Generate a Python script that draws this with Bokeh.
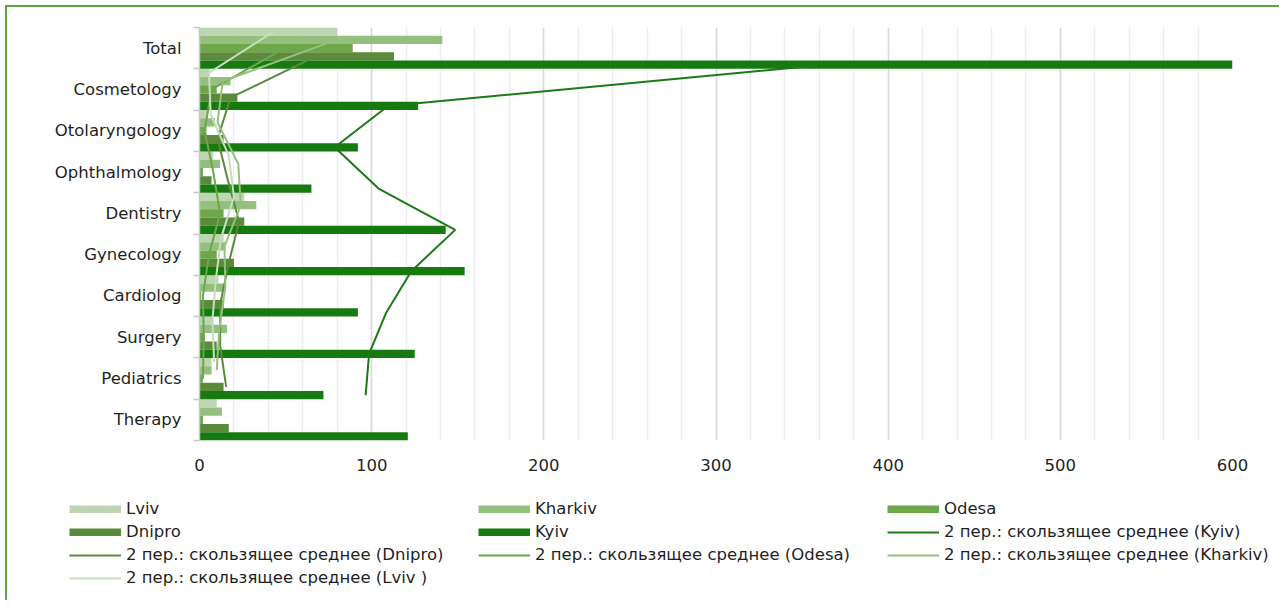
from bokeh.plotting import figure
from bokeh.models import Range1d, FixedTicker, SingleIntervalTicker, Legend, LegendItem
from bokeh.layouts import column
from bokeh.embed import file_html
from bokeh.resources import INLINE

categories = ["Total", "Cosmetology", "Otolaryngology", "Ophthalmology", "Dentistry",
              "Gynecology", "Cardiolog", "Surgery", "Pediatrics", "Therapy"]
cities = ["Lviv", "Kharkiv", "Odesa", "Dnipro", "Kyiv"]
lviv = [80, 6, 5, 8, 26, 14, 11, 8, 7, 10]
kharkiv = [141, 18, 9, 12, 33, 15, 14, 16, 7, 13]
odesa = [89, 10, 4, 2, 14, 10, 1, 3, 2, 2]
dnipro = [113, 22, 14, 7, 26, 20, 14, 10, 14, 17]
kyiv = [600, 127, 92, 65, 143, 154, 92, 125, 72, 121]
series = [lviv, kharkiv, odesa, dnipro, kyiv]
x_max = 600
ma_labels = {"Lviv": "2 пер.: скользящее среднее (Lviv )",
             "Kharkiv": "2 пер.: скользящее среднее (Kharkiv)",
             "Odesa": "2 пер.: скользящее среднее (Odesa)",
             "Dnipro": "2 пер.: скользящее среднее (Dnipro)",
             "Kyiv": "2 пер.: скользящее среднее (Kyiv)"}

bar_colors = ["#bdd6b1", "#94bf7e", "#6ea64a", "#5b8a3b", "#167a10"]
line_colors = ["#c6dfbd", "#93c17d", "#6aa84a", "#5a8b3a", "#1b7a16"]
offsets = [-0.4, -0.2, 0.0, 0.2, 0.4]
FONT = "DejaVu Sans"
FS = "16.5px"
TXT = "#1f1f1f"

p = figure(width=1279, height=480, x_range=Range1d(0, x_max),
           y_range=Range1d(len(categories) - 0.5, -0.5),
           output_backend="svg", toolbar_location=None,
           min_border_left=199, min_border_right=47, min_border_top=27,
           min_border_bottom=40)
p.frame_align = False
p.outline_line_color = None
p.background_fill_color = "white"
p.border_fill_alpha = 0

# x axis
p.xaxis.ticker = SingleIntervalTicker(interval=100, num_minor_ticks=5)
p.xaxis.axis_line_color = None
p.xaxis.major_tick_line_color = None
p.xaxis.minor_tick_line_color = None
p.xaxis.major_label_standoff = 12
p.xaxis.major_label_text_font = FONT
p.xaxis.major_label_text_font_size = FS
p.xaxis.major_label_text_color = TXT
p.xgrid.grid_line_color = "#d9d9d9"
p.xgrid.grid_line_width = 1.5
p.xgrid.minor_grid_line_color = "#ededed"
p.xgrid.minor_grid_line_width = 1.5
p.ygrid.grid_line_color = None

# y axis
p.yaxis.ticker = FixedTicker(ticks=list(range(len(categories))),
                             minor_ticks=[i - 0.5 for i in range(len(categories) + 1)])
p.yaxis.major_label_overrides = {i: c for i, c in enumerate(categories)}
p.yaxis.axis_line_color = "#c8c8c8"
p.yaxis.axis_line_width = 1.5
p.yaxis.major_tick_line_color = None
p.yaxis.major_tick_out = 0
p.yaxis.minor_tick_line_color = "#c8c8c8"
p.yaxis.minor_tick_line_width = 1.5
p.yaxis.minor_tick_out = 6
p.yaxis.minor_tick_in = 0
p.yaxis.major_label_standoff = 12
p.yaxis.major_label_text_font = FONT
p.yaxis.major_label_text_font_size = FS
p.yaxis.major_label_text_color = TXT

# legend panel: a second figure whose proxies hold the same data, kept out of view
p2 = figure(width=1279, height=120, x_range=Range1d(-10, -9), y_range=Range1d(0, 1),
            x_axis_type=None, y_axis_type=None, output_backend="svg",
            toolbar_location=None, min_border=0)
p2.frame_align = False
p2.outline_line_color = None
p2.grid.visible = False
p2.background_fill_alpha = 0
p2.border_fill_alpha = 0

leg_bar = {}
for name, vals, off, col in zip(cities, series, offsets, bar_colors):
    ys = [i + off for i in range(len(categories))]
    p.hbar(y=ys, left=0, right=vals, height=0.2, fill_color=col, line_color=None)
    # swatch proxy: a thick butt-capped stroke gives a full-width rectangular swatch
    leg_bar[name] = p2.line(x=vals, y=ys, line_color=col, line_width=8,
                            line_cap="butt")

leg_line = {}
for idx in [4, 3, 2, 1, 0]:
    name, vals, off, col = cities[idx], series[idx], offsets[idx], line_colors[idx]
    ma = [(vals[i] + vals[i + 1]) / 2 for i in range(len(vals) - 1)]
    ys = [i + off for i in range(len(vals) - 1)]
    p.line(x=ma, y=ys, line_color=col, line_width=2)
    leg_line[name] = p2.line(x=ma, y=ys, line_color=col, line_width=2)

items = [LegendItem(label=c, renderers=[leg_bar[c]]) for c in cities]
items += [LegendItem(label=ma_labels[c], renderers=[leg_line[c]])
          for c in ["Kyiv", "Dnipro", "Odesa", "Kharkiv", "Lviv"]]

legend = Legend(items=items, orientation="horizontal", ncols=3,
                location=(69, 12), glyph_width=52, glyph_height=8,
                label_standoff=5, label_width=350, label_height=21, spacing=2,
                padding=0, margin=0, border_line_color=None,
                background_fill_alpha=0, label_text_font=FONT,
                label_text_font_size=FS, label_text_color=TXT)
p2.add_layout(legend, "center")

border = ("linear-gradient(#5aa544, #5aa544) 5px 5px / 2px 100% no-repeat, "
          "linear-gradient(#5aa544, #5aa544) 5px 5px / 100% 2px no-repeat, white")
layout = column(p, p2, spacing=0, styles={"background": border})

open("out.html", "w").write(file_html(layout, INLINE))
